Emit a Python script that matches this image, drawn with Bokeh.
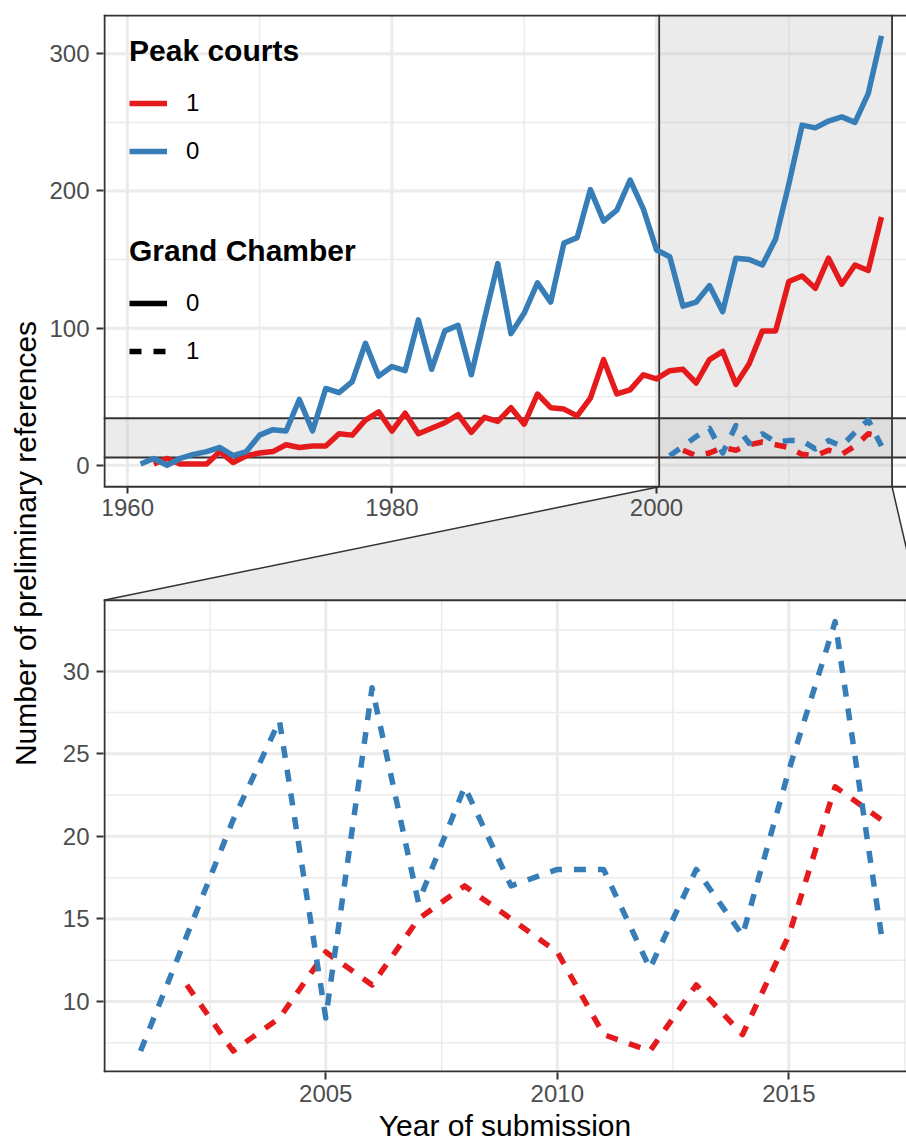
from bokeh.plotting import figure
from bokeh.models import Range1d, LinearAxis, FixedTicker, Legend, LegendItem
from bokeh.embed import file_html
from bokeh.resources import INLINE

# ---------------- data ----------------
years_peak0_gc0 = list(range(1961, 2018))
refs_peak0_gc0 = [1, 5, 0, 5, 8, 10, 13, 7, 10, 22, 26, 25, 48, 25, 56, 53, 61, 89, 65, 72,
                  69, 106, 70, 98, 102, 66, 107, 147, 96, 111, 133, 119, 162, 166, 201, 178, 186, 208, 187, 157,
                  152, 116, 119, 131, 112, 151, 150, 146, 165, 205, 248, 246, 251, 254, 250, 271, 313]

years_peak1_gc0 = list(range(1962, 2018))
refs_peak1_gc0 = [1, 5, 1, 1, 1, 10, 2, 7, 9, 10, 15, 13, 14, 14, 23, 22, 33, 39, 25,
                  38, 23, 27, 31, 37, 24, 35, 32, 42, 30, 52, 42, 41, 36, 49, 77, 52, 55, 66, 63,
                  69, 70, 60, 77, 83, 59, 74, 98, 98, 134, 138, 129, 151, 132, 146, 142, 181]

years_peak0_gc1 = list(range(2001, 2018))
refs_peak0_gc1 = [7, 14, 21, 27, 9, 29, 16, 23, 17, 18, 18, 12, 18, 14, 24, 33, 14]

years_peak1_gc1 = list(range(2002, 2018))
refs_peak1_gc1 = [11, 7, 9, 13, 11, 15, 17, 15, 13, 8, 7, 11, 8, 14, 23, 21]

x_major_top = [1960, 1980, 2000]
x_minor_top = [1970, 1990, 2010]
y_major_top = [0, 100, 200, 300]
y_minor_top = [50, 150, 250]
x_major_bot = [2005, 2010, 2015]
x_minor_bot = [2002.5, 2007.5, 2012.5, 2017.5]
y_major_bot = [10, 15, 20, 25, 30]
y_minor_bot = [7.5, 12.5, 17.5, 22.5, 27.5, 32.5]

peak_labels = ["1", "0"]
gc_labels = ["0", "1"]

# ---------------- style / geometry ----------------
RED, BLUE = "#E41A1C", "#377EB8"
DARK, GRID, TICKTXT = "#333333", "#EBEBEB", "#4D4D4D"
FONT = "Liberation Sans"
LW, DASH = 5.5, "12 12"

FIG_W, FIG_H = 906, 1144
FRAME_LEFT, FRAME_TOP = 103, 14
FRAME_W = FIG_W - FRAME_LEFT
PANEL_W_FULL = 815.0
PANEL_H = 472.5
GAP_H = 113.5
FRAME_H = 2 * PANEL_H + GAP_H


def expand(lo, hi, f=0.05):
    d = (hi - lo) * f
    return lo - d, hi + d


all_years = years_peak0_gc0 + years_peak1_gc0
all_vals = refs_peak0_gc0 + refs_peak1_gc0 + refs_peak0_gc1 + refs_peak1_gc1
tx0, tx1 = expand(min(all_years), max(all_years))
ty0, ty1 = expand(min(all_vals), max(all_vals))
zy = years_peak0_gc1 + years_peak1_gc1
zv = refs_peak0_gc1 + refs_peak1_gc1
bx0, bx1 = expand(min(zy), max(zy))
by0, by1 = expand(min(zv), max(zv))

vis = FRAME_W / PANEL_W_FULL
tx_vis = tx0 + (tx1 - tx0) * vis
bx_vis = bx0 + (bx1 - bx0) * vis
ux_t = (tx1 - tx0) / PANEL_W_FULL
ux_b = (bx1 - bx0) / PANEL_W_FULL
uy_t = (ty1 - ty0) / PANEL_H
uy_b = (by1 - by0) / PANEL_H

top_y0 = ty1 - FRAME_H * uy_t
bot_y1 = by0 + FRAME_H * uy_b

p = figure(width=FIG_W, height=FIG_H,
           x_range=Range1d(tx0, tx_vis), y_range=Range1d(top_y0, ty1),
           x_axis_type=None, y_axis_type=None, toolbar_location=None, output_backend="svg",
           min_border_left=FRAME_LEFT, min_border_top=FRAME_TOP,
           min_border_right=0, min_border_bottom=0,
           background_fill_color="white", border_fill_color="white", outline_line_color=None)
p.extra_x_ranges = {"bot": Range1d(bx0, bx_vis)}
p.extra_y_ranges = {"bot": Range1d(by0, bot_y1)}
BOT = dict(x_range_name="bot", y_range_name="bot")


def bot_to_top_y(v):
    # same frame pixel -> value in the full panel's y scale
    frac = (bot_y1 - v) / (bot_y1 - by0)
    return ty1 - frac * (ty1 - top_y0)


def vlines(xs, y0, y1, color, width, **kw):
    p.segment(x0=xs, y0=[y0] * len(xs), x1=xs, y1=[y1] * len(xs),
              line_color=color, line_width=width, **kw)


def hlines(ys, x0, x1, color, width, **kw):
    p.segment(x0=[x0] * len(ys), y0=ys, x1=[x1] * len(ys), y1=ys,
              line_color=color, line_width=width, **kw)


# grid lines
vlines(x_minor_top, ty0, ty1, GRID, 1.5)
hlines(y_minor_top, tx0, tx1, GRID, 1.5)
vlines(x_major_top, ty0, ty1, GRID, 3)
hlines(y_major_top, tx0, tx1, GRID, 3)
vlines(x_minor_bot, by0, by1, GRID, 1.5, **BOT)
hlines(y_minor_bot, bx0, bx1, GRID, 1.5, **BOT)
vlines(x_major_bot, by0, by1, GRID, 3, **BOT)
hlines(y_major_bot, bx0, bx1, GRID, 3, **BOT)

# zoom indicator in the full panel
p.quad(left=[bx0], right=[bx1], bottom=[ty0], top=[ty1], fill_color="#BEBEBE", fill_alpha=0.3, line_color=None)
p.quad(left=[tx0], right=[tx1], bottom=[by0], top=[by1], fill_color="#BEBEBE", fill_alpha=0.3, line_color=None)
vlines([bx0, bx1], ty0, ty1, DARK, 1.8)
hlines([by0, by1], tx0, tx1, DARK, 1.8)

# connector between the panels
y_bt = ty0 - GAP_H * uy_t
p.patch([bx0, bx1, tx1, tx0], [ty0, ty0, y_bt, y_bt], fill_color="#BEBEBE", fill_alpha=0.3, line_color=None)
p.segment(x0=[bx0, bx1], y0=[ty0, ty0], x1=[tx0, tx1], y1=[y_bt, y_bt], line_color=DARK, line_width=1.5)

# data lines, full panel
r_red = p.line(years_peak1_gc0, refs_peak1_gc0, line_color=RED, line_width=LW, line_join="round")
r_blue = p.line(years_peak0_gc0, refs_peak0_gc0, line_color=BLUE, line_width=LW, line_join="round")
p.line(years_peak1_gc1, refs_peak1_gc1, line_color=RED, line_width=LW, line_dash=DASH, line_join="round")
p.line(years_peak0_gc1, refs_peak0_gc1, line_color=BLUE, line_width=LW, line_dash=DASH, line_join="round")
# zoom panel
p.line(years_peak1_gc1, refs_peak1_gc1, line_color=RED, line_width=LW, line_dash=DASH, line_join="round", **BOT)
p.line(years_peak0_gc1, refs_peak0_gc1, line_color=BLUE, line_width=LW, line_dash=DASH, line_join="round", **BOT)

# legend-only renderers (a single point draws no visible line)
r_gc0 = p.line(years_peak0_gc0[:1], refs_peak0_gc0[:1], line_color="black", line_width=LW)
r_gc1 = p.line(years_peak0_gc0[:1], refs_peak0_gc0[:1], line_color="black", line_width=LW, line_dash=DASH)

# panel borders
vlines([tx0 + ux_t], ty0, ty1, DARK, 2)
hlines([ty1 - uy_t, ty0], tx0, tx1, DARK, 2)
vlines([bx0 + ux_b], by0, by1, DARK, 2, **BOT)
hlines([by1, by0 + uy_b], bx0, bx1, DARK, 2, **BOT)


def style_axis(ax, standoff=5):
    ax.axis_line_color = None
    ax.major_tick_line_color = DARK
    ax.major_tick_line_width = 2
    ax.major_tick_out = 7
    ax.major_tick_in = 0
    ax.minor_tick_line_color = None
    ax.major_label_text_font = FONT
    ax.major_label_text_font_size = "24px"
    ax.major_label_text_color = TICKTXT
    ax.major_label_standoff = standoff
    ax.axis_label_text_font = FONT
    ax.axis_label_text_font_size = "30px"
    ax.axis_label_text_font_style = "normal"
    ax.axis_label_text_color = "black"
    ax.axis_label_standoff = 4


ax_bx = LinearAxis(ticker=FixedTicker(ticks=x_major_bot), axis_label="Year of submission", **BOT)
style_axis(ax_bx)
ax_bx.axis_label_standoff = 4
p.add_layout(ax_bx, "below")

ax_tx = LinearAxis(ticker=FixedTicker(ticks=x_major_top), fixed_location=ty0)
style_axis(ax_tx)
p.add_layout(ax_tx, "below")

# one left axis carries the ticks of both panels
bot_tick_pos = [bot_to_top_y(v) for v in y_major_bot]
ax_y = LinearAxis(ticker=FixedTicker(ticks=y_major_top + bot_tick_pos),
                  axis_label="Number of preliminary references")
style_axis(ax_y, standoff=7)
ax_y.major_label_overrides = {pos: str(v) for pos, v in zip(bot_tick_pos, y_major_bot)}
p.add_layout(ax_y, "left")


def make_legend(title, labels, renderers, loc):
    leg = Legend(items=[LegendItem(label=l, renderers=[r]) for l, r in zip(labels, renderers)],
                 title=title, location=loc, orientation="vertical",
                 title_text_font=FONT, title_text_font_size="30px", title_text_font_style="bold",
                 title_text_color="black", title_standoff=21,
                 label_text_font=FONT, label_text_font_size="24px", label_text_color="black",
                 label_standoff=19, glyph_width=38, glyph_height=24, label_height=24, spacing=20,
                 padding=0, margin=0, border_line_color=None, background_fill_alpha=0)
    p.add_layout(leg)


make_legend("Peak courts", peak_labels, [r_red, r_blue], (26, 907))
make_legend("Grand Chamber", gc_labels, [r_gc0, r_gc1], (26, 707))

open("out.html", "w").write(file_html(p, INLINE))
